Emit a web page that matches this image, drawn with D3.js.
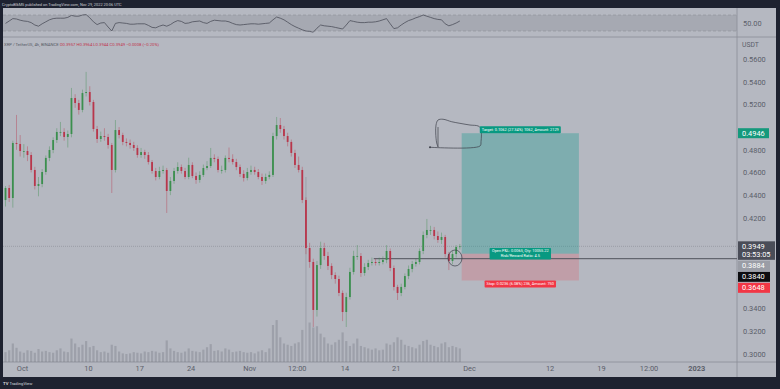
<!DOCTYPE html>
<html>
<head>
<meta charset="utf-8">
<script src="https://cdn.jsdelivr.net/npm/d3@7"></script>
<style>
  body { margin: 0; background: #1e2230; }
  svg { display: block; font-family: Roboto, "Liberation Sans", sans-serif; }
</style>
</head>
<body>
<div id="chart"></div>
<script>
const firstOpen = 0.4357;
const closes = [
  0.4463,0.4375,0.4860,0.4851,0.4789,0.4789,0.4754,0.4622,0.4481,0.4498,
  0.4604,0.4728,0.4798,0.4886,0.4957,0.4957,0.4913,0.4939,0.5256,0.5212,
  0.5151,0.5300,0.5309,0.5221,0.4983,0.4895,0.4921,0.4913,0.4842,0.4622,
  0.4974,0.4930,0.4869,0.4860,0.4842,0.4816,0.4754,0.4780,0.4754,0.4692,
  0.4613,0.4560,0.4613,0.4622,0.4437,0.4525,0.4613,0.4648,0.4613,0.4560,
  0.4666,0.4569,0.4534,0.4578,0.4639,0.4657,0.4728,0.4719,0.4622,0.4622,
  0.4728,0.4719,0.4692,0.4648,0.4587,0.4551,0.4604,0.4622,0.4604,0.4560,
  0.4525,0.4560,0.4578,0.4921,0.5018,0.4983,0.4921,0.4869,0.4772,0.4666,
  0.4622,0.4357,0.3934,0.3811,0.3388,0.3784,0.3934,0.3864,0.3776,0.3696,
  0.3661,0.3538,0.3370,0.3502,0.3723,0.3864,0.3864,0.3714,0.3767,0.3802,
  0.3811,0.3802,0.3811,0.3829,0.3908,0.3758,0.3591,0.3538,0.3591,0.3687,
  0.3749,0.3793,0.3811,0.3908,0.4049,0.4093,0.4093,0.4040,0.4005,0.4031,
  0.3881,0.3820,0.3881,0.3943,0.3949
];
const highs = [
  0.4480,0.4490,0.4880,0.5107,0.4930,0.4850,0.4830,0.4780,0.4650,0.4560,
  0.4630,0.4750,0.4830,0.4910,0.4990,0.5045,0.4990,0.4970,0.5345,0.5290,
  0.5240,0.5330,0.5486,0.5360,0.5240,0.5010,0.4960,0.4990,0.4940,0.4860,
  0.5062,0.5000,0.4950,0.4900,0.4890,0.4870,0.4840,0.4816,0.4800,0.4780,
  0.4710,0.4640,0.4650,0.4660,0.4640,0.4560,0.4640,0.4690,0.4670,0.4640,
  0.4730,0.4690,0.4600,0.4610,0.4670,0.4700,0.4816,0.4760,0.4740,0.4660,
  0.4750,0.4820,0.4760,0.4720,0.4670,0.4620,0.4640,0.4660,0.4650,0.4630,
  0.4590,0.4590,0.4610,0.4950,0.5089,0.5080,0.5010,0.4950,0.4890,0.4800,
  0.4740,0.4650,0.4380,0.3980,0.3840,0.3820,0.3990,0.3980,0.3900,0.3800,
  0.3720,0.3690,0.3560,0.3540,0.3760,0.3910,0.3960,0.3890,0.3800,0.3830,
  0.3850,0.3840,0.3850,0.3860,0.3960,0.3930,0.3780,0.3610,0.3620,0.3710,
  0.3780,0.3820,0.3840,0.3930,0.4080,0.4190,0.4130,0.4120,0.4080,0.4070,
  0.4050,0.3900,0.3910,0.3960,0.3970
];
const lows = [
  0.4300,0.4340,0.4290,0.4800,0.4740,0.4730,0.4700,0.4600,0.4450,0.4390,
  0.4470,0.4580,0.4700,0.4770,0.4860,0.4920,0.4880,0.4820,0.4910,0.5170,
  0.5110,0.5130,0.5270,0.5190,0.4960,0.4860,0.4870,0.4880,0.4810,0.4419,
  0.4600,0.4900,0.4840,0.4830,0.4810,0.4790,0.4730,0.4730,0.4720,0.4670,
  0.4590,0.4530,0.4540,0.4590,0.4243,0.4400,0.4500,0.4590,0.4590,0.4540,
  0.4540,0.4550,0.4500,0.4510,0.4560,0.4620,0.4640,0.4690,0.4600,0.4590,
  0.4600,0.4690,0.4670,0.4620,0.4560,0.4520,0.4530,0.4580,0.4580,0.4540,
  0.4490,0.4500,0.4540,0.4560,0.4890,0.4950,0.4890,0.4830,0.4740,0.4640,
  0.4600,0.4330,0.3880,0.3760,0.3238,0.3330,0.3750,0.3830,0.3740,0.3660,
  0.3620,0.3510,0.3290,0.3238,0.3480,0.3700,0.3830,0.3680,0.3690,0.3740,
  0.3780,0.3780,0.3780,0.3790,0.3800,0.3730,0.3560,0.3476,0.3510,0.3570,
  0.3660,0.3720,0.3770,0.3790,0.3880,0.4020,0.4050,0.4010,0.3980,0.3970,
  0.3850,0.3740,0.3790,0.3850,0.3920
];
// volume, millions
const volumes = [
  80,95,150,115,85,75,95,90,75,105,
  85,90,80,75,95,110,85,80,190,150,
  120,140,170,120,130,95,80,85,75,140,
  130,85,70,65,70,80,75,70,85,80,
  90,85,75,80,175,110,90,80,75,85,
  110,90,85,80,100,120,145,90,95,85,
  110,100,80,85,90,80,75,80,70,85,
  95,80,110,300,340,200,150,140,130,150,
  160,260,1500,320,280,290,230,200,150,140,
  160,180,240,170,130,150,190,130,120,110,
  100,110,95,100,150,140,160,200,180,140,
  130,120,110,140,170,180,140,130,120,150,
  160,120,130,120,110
];
const rsiValues = [
  49,55,61,60,57,55,54,51,45,42,
  48,53,58,61,62,62,62,64,69,67,
  67,70,71,63,53,46,50,51,40,30,
  49,51,50,49,47,47,48,48,48,44,
  39,38,42,45,42,46,52,56,54,49,
  50,53,54,55,51,49,54,57,56,55,
  55,53,49,46,45,46,47,48,48,47,
  48,49,50,58,65,62,58,52,46,41,
  37,33,30,29,27,37,45,43,42,41,
  39,37,35,45,56,54,52,51,51,52,
  52,53,55,58,61,48,36,38,45,51,
  56,59,63,66,70,67,64,61,59,58,
  48,43,46,50,55
];

const priceTicks = [0.30,0.32,0.34,0.36,0.38,0.40,0.42,0.44,0.46,0.48,0.50,0.52,0.54,0.56];
const timeTicks = [
  Date.UTC(2022,9,1), Date.UTC(2022,9,10), Date.UTC(2022,9,17), Date.UTC(2022,9,24),
  Date.UTC(2022,10,1), Date.UTC(2022,10,7,12), Date.UTC(2022,10,14), Date.UTC(2022,10,21),
  Date.UTC(2022,11,1), Date.UTC(2022,11,12), Date.UTC(2022,11,19), Date.UTC(2022,11,25,12),
  Date.UTC(2023,0,1)
].map(t => new Date(t));
const timeLabels = ["Oct","10","17","24","Nov","12:00","14","21","Dec","12","19","12:00","2023"];

// long position tool + drawings
const entryPrice = 0.3884, targetPrice = 0.4946, stopPrice = 0.3648, lastPrice = 0.3949, rayPrice = 0.3840;
const posStart = new Date(Date.UTC(2022,10,30)), posEnd = new Date(Date.UTC(2022,11,16));
const rayStart = new Date(Date.UTC(2022,10,18));
// sketch: [days after Oct 1, price]
const sketch = [
  [55.68,0.4822],[62.50,0.4833],[62.64,0.4871],[62.60,0.4989],[62.23,0.5010],[61.14,0.5018],
  [59.77,0.5033],[58.64,0.5047],[57.45,0.5069],[56.77,0.5062],[56.50,0.5018],[56.46,0.4948],
  [56.59,0.4860],[56.77,0.4825]
];
const sketchPole = [[56.77,0.4825],[56.77,0.5000]];
const circleAt = [59.09, 0.3846];

const
    width = 780, height = 389,
    paneL = 3, paneR = 737, axisR = 776,
    rsiTop = 8, rsiBottom = 37,
    mainTop = 37, mainBottom = 362, timeBottom = 377;

const day = d => new Date(Date.UTC(2022,9,1) + d * 864e5);
const startMs = Date.UTC(2022,8,28,12), step = 12 * 3600e3;

const candles = closes.map((c, i) => ({
    t: new Date(startMs + i * step + step / 2),
    o: i === 0 ? firstOpen : closes[i - 1],
    h: highs[i], l: lows[i], c: c,
    v: volumes[i], r: rsiValues[i]
}));

// scales
const xScale = d3.scaleUtc()
    .domain([new Date(Date.UTC(2022,9,1)), new Date(Date.UTC(2022,11,1))])
    .range([22, 469]);
const yScale = d3.scaleLinear().domain([0.30, 0.56]).range([354, 59]);
const volScale = d3.scaleLinear().domain([0, 1500]).range([mainBottom, 177]);
const rsiScale = d3.scaleLinear().domain([30, 70]).range([31, 15]);

const upColor = "#3b8f4e", downColor = "#b8364b";

const svg = d3.select("#chart").append("svg")
    .attr("width", width).attr("height", height);

svg.append("rect").attr("width", width).attr("height", height).attr("fill", "#1e2230");
svg.append("rect")
    .attr("x", paneL).attr("y", rsiTop)
    .attr("width", axisR - paneL).attr("height", timeBottom - rsiTop)
    .attr("fill", "#b5b8c1");

const defs = svg.append("defs");
defs.append("clipPath").attr("id", "clipMain").append("rect")
    .attr("x", paneL).attr("y", mainTop).attr("width", paneR - paneL).attr("height", mainBottom - mainTop);
defs.append("clipPath").attr("id", "clipRsi").append("rect")
    .attr("x", paneL).attr("y", rsiTop).attr("width", paneR - paneL).attr("height", rsiBottom - rsiTop);

// RSI pane
const rsiG = svg.append("g").attr("clip-path", "url(#clipRsi)");
rsiG.append("rect")
    .attr("x", paneL).attr("width", paneR - paneL)
    .attr("y", rsiScale(70)).attr("height", rsiScale(30) - rsiScale(70))
    .attr("fill", "#a6a9b2");
[70, 30].forEach(lv => {
    rsiG.append("line")
        .attr("x1", paneL).attr("x2", paneR)
        .attr("y1", rsiScale(lv)).attr("y2", rsiScale(lv))
        .attr("stroke", "#8d9099").attr("stroke-width", 0.6).attr("stroke-dasharray", "3,2");
});
rsiG.append("path")
    .datum(candles)
    .attr("fill", "none").attr("stroke", "#4c4f5a").attr("stroke-width", 0.8)
    .attr("d", d3.line().x(d => xScale(d.t)).y(d => rsiScale(d.r)));

// separators
svg.append("line").attr("x1", paneL).attr("x2", axisR).attr("y1", rsiBottom).attr("y2", rsiBottom)
    .attr("stroke", "#8b8e97").attr("stroke-width", 0.8);
svg.append("line").attr("x1", paneR).attr("x2", paneR).attr("y1", rsiTop).attr("y2", timeBottom)
    .attr("stroke", "#8b8e97").attr("stroke-width", 0.8);
svg.append("line").attr("x1", paneL).attr("x2", axisR).attr("y1", mainBottom).attr("y2", mainBottom)
    .attr("stroke", "#8b8e97").attr("stroke-width", 0.8);

// main pane
const mainG = svg.append("g").attr("clip-path", "url(#clipMain)");

// volume
mainG.append("g").selectAll("rect")
    .data(candles).enter().append("rect")
    .attr("x", d => xScale(d.t) - (d.v > 1000 ? 0.5 : 1.1))
    .attr("width", d => d.v > 1000 ? 1 : 2.2)
    .attr("y", d => volScale(d.v))
    .attr("height", d => mainBottom - volScale(d.v))
    .attr("fill", "#7b7e88").attr("fill-opacity", 0.4);

// last price dotted line
mainG.append("line")
    .attr("x1", paneL).attr("x2", paneR)
    .attr("y1", yScale(lastPrice)).attr("y2", yScale(lastPrice))
    .attr("stroke", "#8a8d96").attr("stroke-width", 0.6).attr("stroke-dasharray", "1,1");

// position tool
const px0 = xScale(posStart), px1 = xScale(posEnd);
mainG.append("rect")
    .attr("x", px0).attr("width", px1 - px0)
    .attr("y", yScale(targetPrice)).attr("height", yScale(entryPrice) - yScale(targetPrice))
    .attr("fill", "#009688").attr("fill-opacity", 0.3);
mainG.append("rect")
    .attr("x", px0).attr("width", px1 - px0)
    .attr("y", yScale(entryPrice)).attr("height", yScale(stopPrice) - yScale(entryPrice))
    .attr("fill", "#f23645").attr("fill-opacity", 0.2);

// horizontal ray
mainG.append("line")
    .attr("x1", xScale(rayStart)).attr("x2", paneR)
    .attr("y1", yScale(rayPrice)).attr("y2", yScale(rayPrice))
    .attr("stroke", "#4f525c").attr("stroke-width", 1);

// candles
const candleG = mainG.append("g").selectAll("g")
    .data(candles).enter().append("g")
    .attr("fill", d => d.c >= d.o ? upColor : downColor)
    .attr("stroke", d => d.c >= d.o ? upColor : downColor);
candleG.append("line")
    .attr("x1", d => xScale(d.t)).attr("x2", d => xScale(d.t))
    .attr("y1", d => yScale(d.h)).attr("y2", d => yScale(d.l))
    .attr("stroke-width", 0.8).attr("stroke-opacity", 0.5);
candleG.append("rect")
    .attr("x", d => xScale(d.t) - 0.9).attr("width", 1.8)
    .attr("y", d => yScale(Math.max(d.o, d.c)))
    .attr("height", d => Math.max(0.8, Math.abs(yScale(d.o) - yScale(d.c))))
    .attr("stroke", "none");

// drawings
const sketchLine = d3.line().curve(d3.curveCatmullRom)
    .x(d => xScale(day(d[0]))).y(d => yScale(d[1]));
mainG.append("path").datum(sketch).attr("d", sketchLine)
    .attr("fill", "none").attr("stroke", "#3c3f49").attr("stroke-width", 0.7);
mainG.append("path").datum(sketchPole).attr("d", d3.line().x(d => xScale(day(d[0]))).y(d => yScale(d[1])))
    .attr("fill", "none").attr("stroke", "#3c3f49").attr("stroke-width", 0.7);
mainG.append("circle")
    .attr("cx", xScale(day(sketch[0][0]))).attr("cy", yScale(sketch[0][1])).attr("r", 1)
    .attr("fill", "#3c3f49");
mainG.append("ellipse")
    .attr("cx", xScale(day(circleAt[0]))).attr("cy", yScale(circleAt[1]))
    .attr("rx", 7).attr("ry", 8)
    .attr("fill", "none").attr("stroke", "#3c3f49").attr("stroke-width", 0.7);

// position labels
function posLabel(lines, cy, fill, anchor) {
    const g = mainG.append("g");
    const fs = 3.9;
    const t = g.append("text")
        .attr("x", (px0 + px1) / 2).attr("text-anchor", "middle")
        .attr("font-size", fs).attr("fill", "#ffffff");
    lines.forEach((s, i) => t.append("tspan")
        .attr("x", (px0 + px1) / 2).attr("dy", i === 0 ? 0 : fs * 1.15).text(s));
    const bb = t.node().getBBox();
    const h = bb.height + 2;
    let top = anchor === "bottom" ? cy - h : anchor === "top" ? cy : cy - h / 2;
    t.attr("y", top + 1 + fs * 0.85);
    g.insert("rect", "text")
        .attr("x", (px0 + px1) / 2 - bb.width / 2 - 2).attr("width", bb.width + 4)
        .attr("y", top).attr("height", h).attr("rx", 0.8)
        .attr("fill", fill);
}
posLabel(["Target: 0.1062 (27.34%) 1062, Amount: 2129"], yScale(targetPrice), "#089981", "bottom");
posLabel(["Open P&L: 0.0065, Qty: 10055.22", "Risk/Reward Ratio: 4.5"], yScale(entryPrice), "#089981", "middle");
posLabel(["Stop: 0.0236 (6.08%) 236, Amount: 750"], yScale(stopPrice), "#f23645", "top");

// axes
const yAxis = d3.axisRight(yScale).tickValues(priceTicks).tickSize(0).tickPadding(6)
    .tickFormat(d3.format(".4f"));
const yAxisG = svg.append("g").attr("transform", `translate(${paneR},0)`).call(yAxis);
yAxisG.select(".domain").remove();
yAxisG.selectAll("text").attr("fill", "#5b5e69").attr("font-size", 7.4).attr("font-family", "Roboto, sans-serif");

const xAxis = d3.axisBottom(xScale).tickValues(timeTicks).tickSize(0).tickPadding(4)
    .tickFormat((d, i) => timeLabels[i]);
const xAxisG = svg.append("g").attr("transform", `translate(0,${mainBottom})`).call(xAxis);
xAxisG.select(".domain").remove();
xAxisG.selectAll("text").attr("fill", "#5b5e69").attr("font-size", 7.4).attr("font-family", "Roboto, sans-serif")
    .attr("font-weight", (d, i) => timeLabels[i] === "2023" ? "bold" : "normal");

svg.append("text").attr("x", 742).attr("y", 47).attr("font-size", 6.8).attr("fill", "#5b5e69").text("USDT");
svg.append("text").attr("x", 743).attr("y", rsiScale(50) + 2.6).attr("font-size", 7.4).attr("fill", "#5b5e69").text("50.00");

// price-axis labels, stacked so they do not overlap
const axisLabels = [
    { p: targetPrice, lines: ["0.4946"], fill: "#15997c", w: 31 },
    { p: lastPrice, lines: ["0.3949", "03:53:05"], fill: "#4a4d58", w: 37 },
    { p: entryPrice, lines: ["0.3884"], fill: "#9a9da6", w: 32 },
    { p: rayPrice, lines: ["0.3840"], fill: "#0d0d10", w: 32 },
    { p: stopPrice, lines: ["0.3648"], fill: "#f23645", w: 32 }
];
const boxes = [];
let prevBottom = -Infinity;
axisLabels.forEach(a => {
    const h = a.lines.length * 8.5 + 1.5;
    const top = Math.max(yScale(a.p) - 5, prevBottom + 1);
    prevBottom = top + h;
    boxes.push([top, top + h]);
    svg.append("rect").attr("x", paneR + 1).attr("y", top).attr("width", a.w).attr("height", h).attr("fill", a.fill);
    a.lines.forEach((s, i) => svg.append("text")
        .attr("x", paneR + 5).attr("y", top + 7.3 + i * 8.5)
        .attr("font-size", 7.4).attr("fill", "#ffffff").text(s));
});
// tick labels that sit under the coloured labels are dropped
yAxisG.selectAll(".tick")
    .filter(d => boxes.some(b => yScale(d) + 4 > b[0] && yScale(d) - 4 < b[1]))
    .remove();

// header, legend, footer
svg.append("text").attr("x", 2).attr("y", 5.5).attr("font-size", 3.9).attr("fill", "#c9ccd4")
    .text("CryptoBlkM5 published on TradingView.com, Nov 29, 2022 20:06 UTC");
const legend = svg.append("text").attr("x", 4).attr("y", 45.5).attr("font-size", 4.2);
legend.append("tspan").attr("fill", "#555864").text("XRP / TetherUS, 4h, BINANCE  ");
legend.append("tspan").attr("fill", "#c0354d").text("O0.3957 H0.3964 L0.3944 C0.3949 −0.0008 (−0.20%)");
const logo = svg.append("text").attr("x", 3).attr("y", 384.5).attr("font-size", 4.2).attr("fill", "#d5d7de");
logo.append("tspan").attr("font-weight", "bold").text("TV ");
logo.append("tspan").text("TradingView");
</script>
</body>
</html>
